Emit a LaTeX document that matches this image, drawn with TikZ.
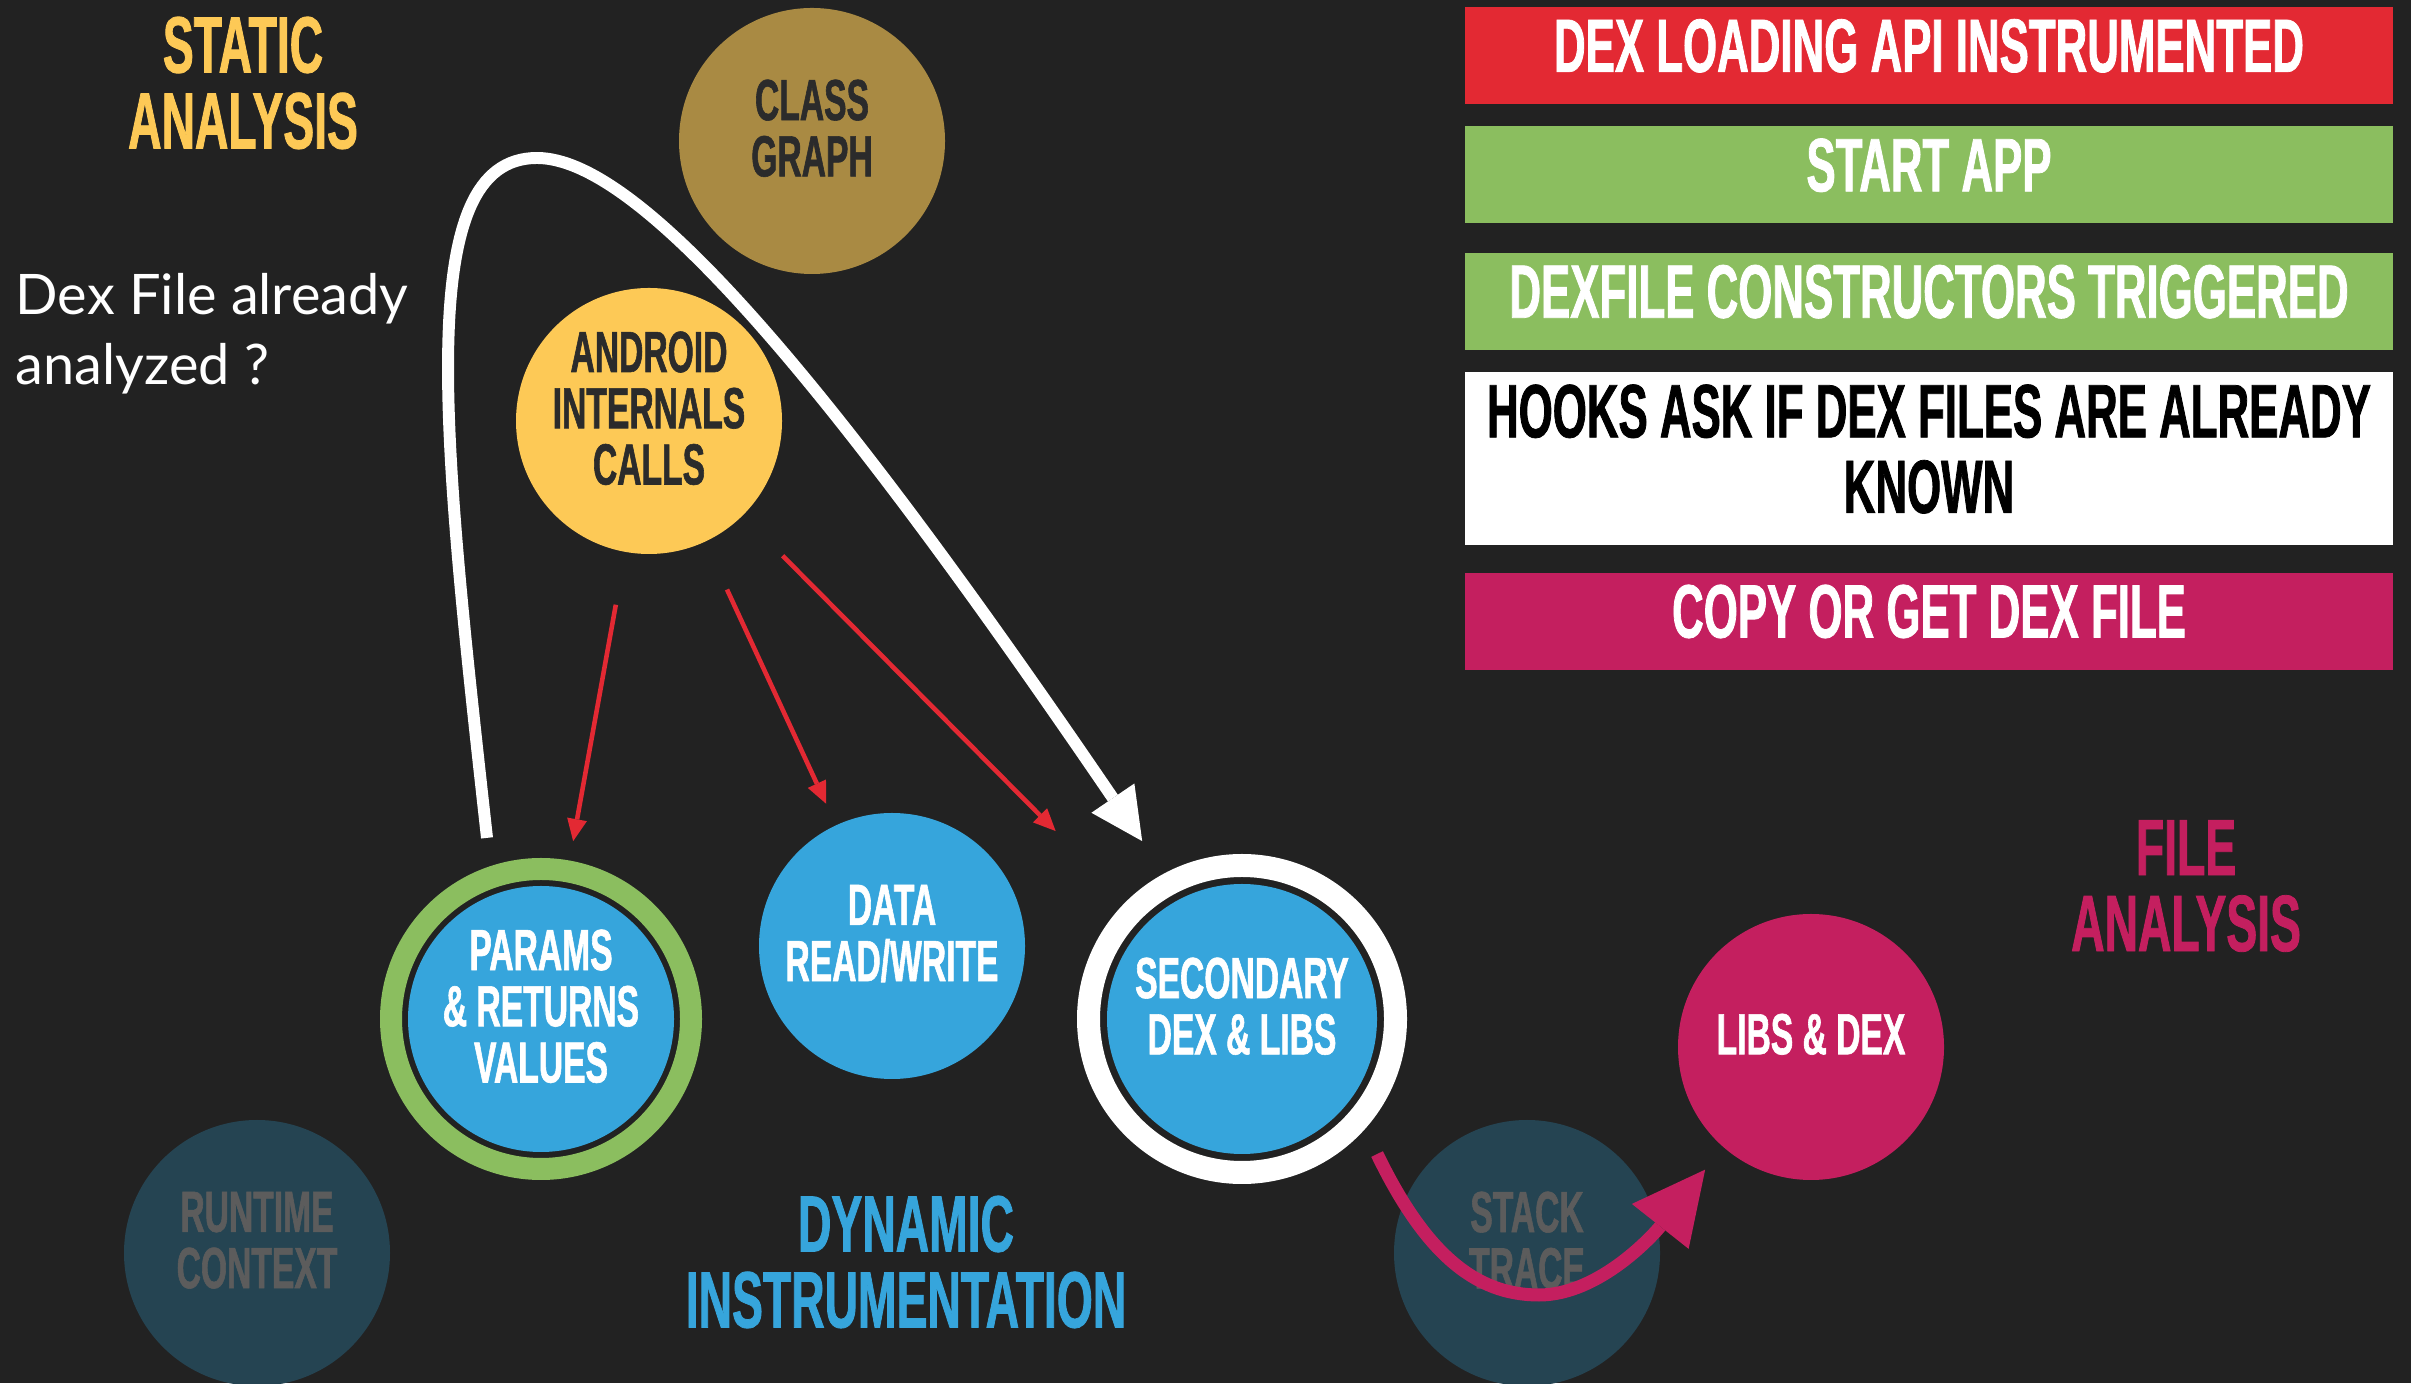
\documentclass[tikz,border=0pt]{standalone}
\usepackage{fontspec}
\usepackage{tikz}
\usetikzlibrary{positioning,calc,arrows.meta}
\newfontfamily\dinfont[FakeStretch=0.58,FakeBold=1]{Liberation Sans}
\newfontfamily\roundfont{Lato}
\definecolor{slide}{HTML}{222222}
\definecolor{olivegraph}{HTML}{A98A43}
\definecolor{yellowcall}{HTML}{FDC956}
\definecolor{bluedyn}{HTML}{36A5DC}
\definecolor{greenbar}{HTML}{8BBE5F}
\definecolor{redbar}{HTML}{E32933}
\definecolor{filemag}{HTML}{C41F5F}
\definecolor{ghost}{HTML}{254452}
\definecolor{ghosttext}{HTML}{5C5C5C}
\definecolor{darktext}{HTML}{2B2B2B}
\newcommand{\bubblesize}{2.66cm}
\tikzset{
    node style bubble/.style={circle,minimum size=\bubblesize,inner sep=0pt,align=center,text depth=0.26cm,font=\dinfont\bfseries\fontsize{16.5}{16}\selectfont},
    node style bar/.style={minimum width=9.28cm,minimum height=0.97cm,inner sep=0pt,align=center,text=white,text depth=0.2cm,font=\dinfont\bfseries\fontsize{21.5}{21.5}\selectfont},
    node style title/.style={align=center,font=\dinfont\bfseries\fontsize{22.7}{21.6}\selectfont},
    arrow style red/.style={draw=redbar,line width=1.3pt,-{Triangle[length=6.3pt,width=5.7pt,line width=0pt]}},
    arrow style loop/.style={draw=white,line width=3.4pt,-{Triangle[length=14.8pt,width=14.8pt,line width=0pt]}},
    arrow style file/.style={draw=filemag,line width=3.7pt,-{Triangle[length=20.6pt,width=20.6pt,line width=0pt]}},
}

\begin{document}
\begin{tikzpicture}
  \fill[slide] (0,0) rectangle (24.11,13.83);
  \useasboundingbox (0,0) rectangle (24.11,13.83);

  % headings
  \node[node style title,text=yellowcall] (static) at (2.43,13.0) {STATIC\\ANALYSIS};
  \node[node style title,text=bluedyn] (dynamic) at (9.06,1.21) {DYNAMIC\\INSTRUMENTATION};
  \node[node style title,text=filemag] (fileana) at (21.86,4.97) {FILE\\ANALYSIS};
  \node[anchor=north west,align=left,text=white,inner sep=0pt,font=\roundfont\fontsize{15.9}{19.9}\selectfont] (question) at (0.15,11.1) {Dex File already\\analyzed ?};

  % bubbles
  \node[node style bubble,fill=olivegraph,text=darktext] (classgraph) at (8.12,12.42) {CLASS\\GRAPH};
  \node[node style bubble,fill=yellowcall,text=darktext] (android) at (6.49,9.62) {ANDROID\\INTERNALS\\CALLS};
  \node[node style bubble,fill=ghost,text=ghosttext] (runtime) at (2.57,1.30) {RUNTIME\\CONTEXT};
  \node[node style bubble,fill=ghost,text=ghosttext] (stack) at (15.27,1.30) {STACK\\TRACE};
  \node[node style bubble,fill=bluedyn,text=white] (params) at (5.41,3.64) {PARAMS\\\& RETURNS\\VALUES};
  \node[node style bubble,fill=bluedyn,text=white] (data) at (8.92,4.37) {DATA\\READ/WRITE};
  \node[node style bubble,fill=bluedyn,text=white,minimum size=2.70cm] (secondary) at (12.42,3.64) {SECONDARY\\DEX \& LIBS};
  \node[node style bubble,fill=filemag,text=white] (libsdex) at (18.11,3.36) {LIBS \& DEX};

  % rings
  \draw[greenbar,line width=0.22cm] (params.center) circle (1.50cm);
  \draw[white,line width=0.23cm] (secondary.center) circle (1.535cm);

  % steps
  \node[node style bar,fill=redbar] (loadapi) at (19.29,13.275) {DEX LOADING API INSTRUMENTED};
  \node[node style bar,fill=greenbar,below=0.21cm of loadapi] (startapp) {START APP};
  \node[node style bar,fill=greenbar,below=0.28cm of startapp] (ctors) {DEXFILE CONSTRUCTORS TRIGGERED};
  \node[node style bar,fill=white,text=black,minimum height=1.73cm,below=0.21cm of ctors] (hooks) {HOOKS ASK IF DEX FILES ARE ALREADY\\KNOWN};
  \node[node style bar,fill=filemag,below=0.26cm of hooks] (copydex) {COPY OR GET DEX FILE};

  % calls
  \draw[arrow style red,shorten <=0.53cm,shorten >=0.47cm] (android) -- (params);
  \draw[arrow style red,shorten <=0.52cm,shorten >=0.23cm] (android) -- (data);
  \draw[arrow style red,shorten <=0.56cm,shorten >=1.29cm] (android) -- (secondary);

  % loop back
  \coordinate (loopfrom) at ($(params.center)+(106.6:1.89)$);
  \coordinate (loopto) at ($(secondary.center)+(119.3:2.04)$);
  \draw[arrow style loop] (loopfrom) .. controls (4.42,9.5) and (4.12,12.25) .. (5.37,12.25) .. controls (6.40,12.25) and (8.3,10.0) .. (loopto);

  % to file analysis
  \coordinate (filefrom) at ($(secondary.center)+(-45:1.91)$);
  \coordinate (fileto) at ($(libsdex.center)+(-130.8:1.62)$);
  \draw[arrow style file] (filefrom) .. controls (14.25,1.3) and (14.75,0.88) .. (15.39,0.88) .. controls (16.0,0.88) and (16.55,1.5) .. (fileto);
\end{tikzpicture}
\end{document}
